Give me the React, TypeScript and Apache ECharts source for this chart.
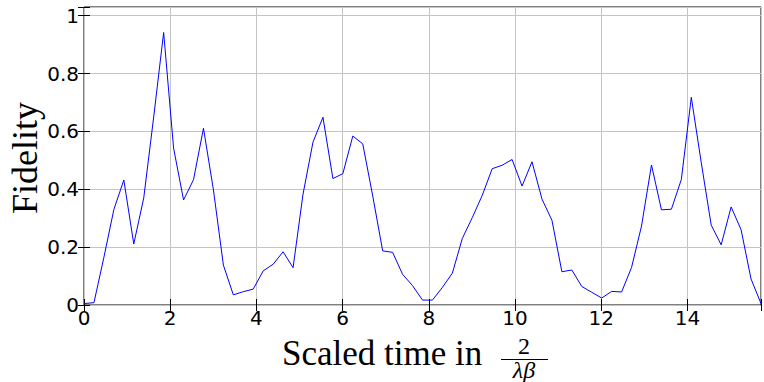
import React, { useEffect, useRef } from "react";
import * as echarts from "echarts";

// time step: 5*pi spread over 68 intervals (69 samples)
const T_MAX = 5 * Math.PI;
const N_STEPS = 68;

const fidelity: number[] = [
  0.005, 0.008, 0.165, 0.33, 0.432, 0.211, 0.37, 0.65, 0.942, 0.542,
  0.363, 0.433, 0.611, 0.398, 0.138, 0.035, 0.046, 0.055, 0.118, 0.141,
  0.184, 0.129, 0.383, 0.563, 0.649, 0.437, 0.454, 0.584, 0.557, 0.377,
  0.187, 0.182, 0.106, 0.067, 0.017, 0.017, 0.061, 0.11, 0.23, 0.302,
  0.379, 0.471, 0.483, 0.503, 0.411, 0.495, 0.366, 0.293, 0.115, 0.121,
  0.064, 0.044, 0.024, 0.047, 0.045, 0.13, 0.273, 0.484, 0.329, 0.331,
  0.434, 0.718, 0.492, 0.276, 0.208, 0.339, 0.26, 0.09, 0.005,
];

const timeValues: number[] = fidelity.map((_, k) => (k * T_MAX) / N_STEPS);

const xTicks: number[] = [0, 2, 4, 6, 8, 10, 12, 14];
const yTicks: number[] = [0, 0.2, 0.4, 0.6, 0.8, 1];

const Y_MAX = 1.03;

export default function App() {
  const ref = useRef<HTMLDivElement>(null);

  useEffect(() => {
    if (!ref.current) return;
    const chart = echarts.init(ref.current, undefined, { renderer: "svg" });

    const xFmt = (v: number) =>
      xTicks.some((t) => Math.abs(t - v) < 1e-6) ? String(Math.round(v)) : "";
    const yFmt = (v: number) =>
      yTicks.some((t) => Math.abs(t - v) < 1e-6) ? String(+v.toFixed(1)) : "";

    const tickFont = {
      fontFamily: "DejaVu Sans",
      fontSize: 20,
      color: "#000",
    };

    const serif = "Liberation Serif";

    chart.setOption({
      animation: false,
      backgroundColor: "#fff",
      grid: {
        left: 84,
        top: 7,
        right: -3,
        bottom: 77,
        show: true,
        borderColor: "#000",
        borderWidth: 1,
        backgroundColor: "transparent",
      },
      xAxis: [
        {
          type: "value",
          min: 0,
          max: T_MAX,
          interval: 2,
          axisLine: { show: false },
          axisTick: { show: true, inside: true, length: 6, lineStyle: { color: "#000" } },
          axisLabel: { ...tickFont, margin: 3, formatter: xFmt },
          splitLine: { show: true, lineStyle: { color: "#c4c4c4", width: 1 } },
        },
        {
          type: "value",
          position: "top",
          min: 0,
          max: T_MAX,
          interval: 2,
          axisLine: { show: false },
          axisTick: { show: true, inside: true, length: 6, lineStyle: { color: "#000" } },
          axisLabel: { show: false },
          splitLine: { show: false },
        },
      ],
      yAxis: [
        {
          type: "value",
          min: 0,
          max: Y_MAX,
          interval: 0.2,
          axisLine: { show: false },
          axisTick: { show: true, inside: true, length: 6, lineStyle: { color: "#000" } },
          axisLabel: { ...tickFont, margin: 5, formatter: yFmt },
          splitLine: { show: true, lineStyle: { color: "#c4c4c4", width: 1 } },
        },
        {
          type: "value",
          position: "right",
          min: 0,
          max: Y_MAX,
          interval: 0.2,
          axisLine: { show: false },
          axisTick: { show: true, inside: true, length: 6, lineStyle: { color: "#000" } },
          axisLabel: { show: false },
          splitLine: { show: false },
        },
      ],
      series: [
        {
          type: "line",
          data: timeValues.map((t, i) => [t, fidelity[i]]),
          showSymbol: false,
          symbol: "none",
          clip: true,
          lineStyle: { color: "#0000ff", width: 1 },
        },
      ],
      graphic: [
        {
          type: "text",
          x: 25,
          y: 158,
          rotation: Math.PI / 2,
          style: {
            text: "Fidelity",
            fontFamily: serif,
            fontSize: 36,
            fill: "#000",
            align: "center",
            verticalAlign: "middle",
          },
        },
        {
          type: "text",
          x: 282,
          y: 353,
          style: {
            text: "Scaled time in",
            fontFamily: serif,
            fontSize: 35,
            fill: "#000",
            align: "left",
            verticalAlign: "middle",
          },
        },
        {
          type: "text",
          x: 524,
          y: 346,
          style: {
            text: "2",
            fontFamily: serif,
            fontSize: 24,
            fill: "#000",
            align: "center",
            verticalAlign: "middle",
          },
        },
        {
          type: "line",
          shape: { x1: 501, y1: 359.5, x2: 548, y2: 359.5 },
          style: { stroke: "#000", lineWidth: 1 },
        },
        {
          type: "text",
          x: 524,
          y: 370,
          style: {
            text: "λβ",
            fontFamily: serif,
            fontStyle: "italic",
            fontSize: 24,
            fill: "#000",
            align: "center",
            verticalAlign: "middle",
          },
        },
      ],
    });

    return () => chart.dispose();
  }, []);

  return (
    <div
      ref={ref}
      style={{ position: "fixed", left: 0, top: 0, width: 764, height: 382 }}
    />
  );
}
